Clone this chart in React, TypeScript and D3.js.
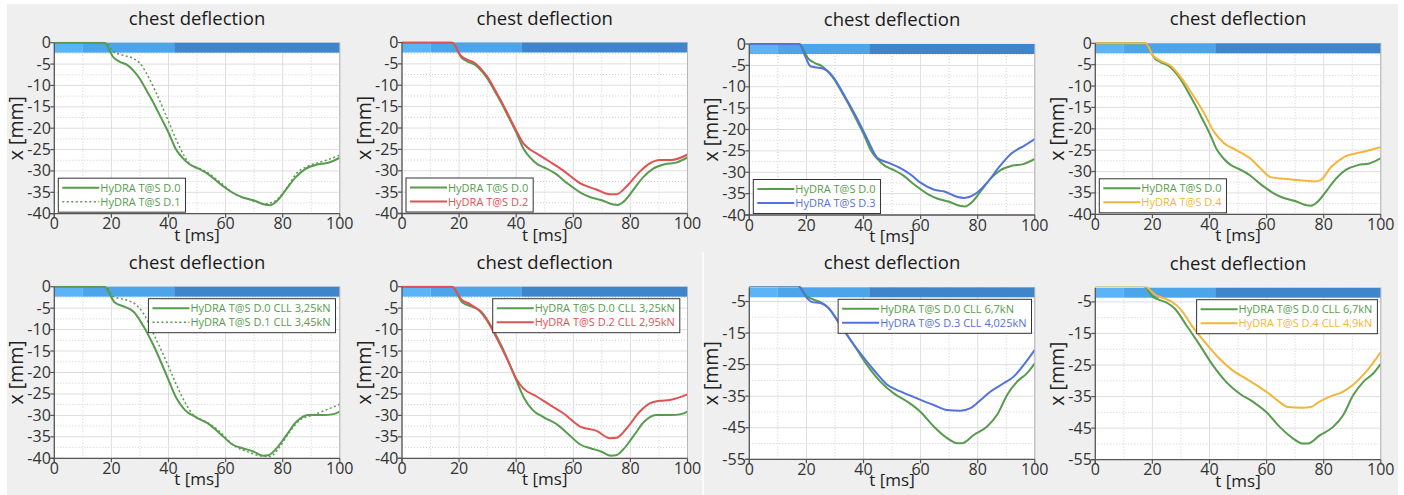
import React from 'react';
import * as d3 from 'd3';

const W = 1404;
const H = 495;
const FONT = "'Open Sans', 'Noto Sans', sans-serif";

const TITLE = 'chest deflection';
const X_LABEL = 't [ms]';
const Y_LABEL = 'x [mm]';

const GREEN = '#579b4e';
const RED = '#e05252';
const BLUE = '#5272dc';
const ORANGE = '#f3b63c';

const xTicks = [0, 20, 40, 60, 80, 100];
const xMinor = [10, 30, 50, 70, 90];
const yTicksTop = [0, -5, -10, -15, -20, -25, -30, -35, -40];
const yMinorTop = [-2.5, -7.5, -12.5, -17.5, -22.5, -27.5, -32.5, -37.5];
const yTicksBottom = [-5, -15, -25, -35, -45, -55];
const yMinorBottom = [-10, -20, -30, -40, -50];

const bandEdges = [0, 10, 42, 100];
const bandColors = ['#5bb3f8', '#4ca4ea', '#3f85cb'];

// top row, D.0 reference
const tD0top = [0, 10, 17.5, 20.8, 22.8, 25.5, 27.8, 30, 32.5, 35, 37.5, 40, 42.5, 45, 47.5, 50, 54, 58, 62.5, 66, 70, 74, 75.5, 78, 81, 84.5, 88, 92, 96, 100];
const vD0top = [0, 0, 0, -3.5, -4.4, -5.2, -6.6, -8.5, -11.4, -14.4, -17.7, -21, -24.8, -27, -28.5, -29.3, -30.8, -33, -35.1, -36.2, -36.9, -37.9, -38, -37, -34.5, -31.5, -29.5, -28.5, -28.1, -26.9];

const tD1top = [0, 10, 18, 20.7, 24, 27.7, 30, 32.3, 35.8, 39.3, 42.8, 45.7, 48, 52.2, 58, 62.7, 68.5, 73.2, 76.7, 81.3, 84.8, 89.5, 95.3, 100];
const vD1top = [0, 0, 0, -2.1, -2.9, -3.7, -4.8, -7.2, -11.9, -17.3, -22.8, -26.7, -28.7, -29.8, -32.6, -35.2, -36.7, -37.7, -37.3, -34.1, -30.6, -28.7, -27.5, -26.3];

const tD2top = [0, 10, 17.5, 20.8, 22.8, 25.5, 27.8, 30, 32.5, 35, 37.5, 40, 42.5, 45, 47.5, 51.8, 56.4, 62.3, 68.1, 72.8, 75.1, 78.6, 83.3, 86.8, 90.3, 94.4, 100];
const vD2top = [0, 0, 0, -3.2, -4.0, -4.8, -6.3, -8.1, -11.0, -14.0, -17.3, -20.6, -23.6, -25.1, -26.1, -27.9, -29.9, -32.9, -34.4, -35.5, -35.5, -33.7, -30.2, -28.3, -27.5, -27.5, -26.2];

const tD3top = [0, 10, 17.5, 19.6, 21.4, 23.7, 26, 29, 33.1, 37.8, 41.3, 44.8, 48.4, 53.1, 56.6, 60.1, 64.8, 68.3, 73, 75.4, 78.9, 83.6, 87.1, 91.8, 96.5, 100];
const vD3top = [0, 0, 0, -2.9, -5.2, -5.5, -5.8, -7.4, -11.8, -17.5, -22.2, -26.6, -27.7, -29.1, -30.6, -32.5, -34.1, -34.5, -35.8, -36, -35.2, -32.2, -29.1, -25.6, -23.7, -22.2];

const tD4top = [0, 10, 17.5, 20.5, 22.8, 26.3, 29.2, 33.3, 38, 41.5, 45, 49.7, 54.4, 57.9, 61.4, 66.1, 70.8, 76.6, 78.9, 82.5, 87.1, 93, 100];
const vD4top = [0, 0, 0, -3.1, -4.1, -5.2, -7.3, -11.2, -16.2, -20.6, -23.3, -25.1, -27, -29.3, -31.3, -31.7, -32, -32.3, -32, -29, -26.6, -25.5, -24.3];

// bottom left pair, CLL 3,25kN reference
const tD0bl = [0, 10, 17.5, 21.2, 24.7, 27.7, 30.6, 34.7, 39.3, 42.8, 45.7, 49.8, 54.5, 58, 62.7, 66.2, 69.7, 73.2, 74.9, 77.8, 81.3, 84.8, 88.9, 94.2, 97.7, 100];
const vD0bl = [0, 0, 0, -3.7, -4.7, -5.8, -8.5, -13.6, -20.6, -26, -28.7, -30.5, -32.2, -34.2, -36.9, -37.7, -38.4, -39.4, -39.3, -37.7, -34.6, -31.5, -29.9, -29.9, -29.7, -29.1];

const tD1bl = [0, 10, 18.1, 20.7, 25.3, 28.8, 31.2, 34.7, 39.3, 42.8, 46.3, 48.7, 53.3, 58, 62.7, 67.3, 72, 75.5, 79, 82.5, 86, 90.7, 95.3, 100];
const vD1bl = [0, 0, 0, -2.3, -3.1, -4.3, -6.2, -10.9, -17.5, -22.9, -27.6, -29.9, -31.5, -33.8, -36.9, -38.4, -39.4, -39.6, -37.3, -33.8, -31.1, -29.9, -28.7, -27.4];

const tD2bl = [0, 10, 17.5, 21, 23.9, 26.8, 29.7, 33.2, 36.7, 40.2, 42.5, 47.2, 51.9, 56.5, 62.4, 68.2, 72.8, 75.2, 78.7, 83.3, 86.8, 90.3, 93.8, 100];
const vD2bl = [0, 0, 0, -3.1, -4.1, -5.4, -7.8, -12, -16.7, -21.7, -23.7, -25.6, -27.6, -29.5, -32.6, -33.6, -35.3, -35.2, -33, -29.1, -27.2, -26.6, -26.4, -25.1];

// bottom right pair, CLL 6,7kN reference
const tD0br = [0, 10, 17, 20.2, 22, 25.5, 27.8, 31.9, 36.6, 41.2, 45.9, 50.6, 55.3, 59.9, 64.6, 69.3, 72.8, 74.5, 78.6, 83.3, 86.8, 90.3, 93.8, 97.3, 100];
const vD0br = [0, 0, 0, -3.4, -4.2, -5.5, -7.1, -12.4, -18.7, -25.1, -30.4, -34.1, -36.7, -39.9, -44.6, -48.3, -49.9, -49.9, -47.3, -44.6, -40.9, -34.6, -30.4, -27.7, -24.6];

const tD3br = [0, 10, 17, 20.2, 22, 24.9, 27.2, 30.7, 34.2, 38.9, 43.6, 48.3, 52.9, 58.8, 64.6, 69.3, 73.9, 77.5, 81, 84.5, 89.1, 92.6, 96.1, 100];
const vD3br = [0, 0, 0, -3.9, -5.2, -5.5, -6.6, -10.8, -15.6, -21.4, -26.7, -31.4, -33.5, -35.7, -37.8, -39.4, -39.6, -38.8, -36.2, -33.5, -30.9, -28.8, -25.1, -20.3];

const tD4br = [0, 10, 17, 21.3, 24.2, 27.2, 30.1, 34.1, 38.8, 43.5, 48.1, 52.8, 57.5, 60.9, 64.5, 67.4, 72.6, 75.5, 78.4, 81.9, 86.6, 90.1, 94.8, 100];
const vD4br = [0, 0, 0, -2.9, -3.9, -5.2, -7.6, -12.9, -18.2, -23, -26.7, -29.3, -32, -34.1, -36.7, -38.3, -38.5, -38.3, -36.7, -35.1, -33.5, -31.4, -27.2, -20.9];

type Series = { t: number[]; v: number[]; color: string; dash?: string; width: number; label: string };

const mk = (t: number[], v: number[], color: string, label: string, dash?: string): Series => ({
  t, v, color, label, dash, width: dash ? 1.5 : 2,
});

let _canvas: HTMLCanvasElement | null = null;
function measure(text: string, font: string): number {
  if (!_canvas) _canvas = document.createElement('canvas');
  const ctx = _canvas.getContext('2d');
  if (!ctx) return text.length * 5.8;
  ctx.font = font;
  return ctx.measureText(text).width;
}

type PanelProps = {
  id: string;
  left: number;
  top: number;
  width: number;
  height: number;
  yDomain: [number, number];
  yTicks: number[];
  yMinor: number[];
  series: Series[];
  legendPos: 'bl' | 'tr';
  legendInset: number;
};

function Panel(p: PanelProps) {
  const x = d3.scaleLinear().domain([0, 100]).range([p.left, p.left + p.width]);
  const y = d3.scaleLinear().domain(p.yDomain).range([p.top + p.height, p.top]);
  const line = d3
    .line<[number, number]>()
    .x((d) => x(d[0]))
    .y((d) => y(d[1]))
    .curve(d3.curveMonotoneX);
  const bottom = p.top + p.height;
  const right = p.left + p.width;
  const bandH = 10;
  const legFont = `11px ${FONT}`;
  const maxText = d3.max(p.series, (s) => measure(s.label, legFont)) || 80;
  const legW = 42 + maxText + 5;
  const legH = 34;
  const legX = p.legendPos === 'bl' ? p.left + 4 : right - p.legendInset - legW;
  const legY = p.legendPos === 'bl' ? bottom - 1.5 - legH : p.top + 12;
  const clipId = `clip-${p.id}`;
  const cx = (p.left + right) / 2;

  return (
    <g>
      <defs>
        <clipPath id={clipId}>
          <rect x={p.left} y={p.top - 1} width={p.width} height={p.height + 1} />
        </clipPath>
      </defs>
      <rect x={p.left} y={p.top} width={p.width} height={p.height} fill="#ffffff" />
      {xMinor.map((t) => (
        <line key={'xm' + t} x1={x(t)} x2={x(t)} y1={p.top} y2={bottom} stroke="#cfcfcf" strokeWidth={1} strokeDasharray="1,2" />
      ))}
      {p.yMinor.map((v) => (
        <line key={'ym' + v} x1={p.left} x2={right} y1={y(v)} y2={y(v)} stroke="#cfcfcf" strokeWidth={1} strokeDasharray="1,2" />
      ))}
      {xTicks.map((t) => (
        <line key={'xg' + t} x1={x(t)} x2={x(t)} y1={p.top} y2={bottom} stroke="#dedede" strokeWidth={1} />
      ))}
      {p.yTicks.map((v) => (
        <line key={'yg' + v} x1={p.left} x2={right} y1={y(v)} y2={y(v)} stroke="#dedede" strokeWidth={1} />
      ))}
      {bandColors.map((c, i) => (
        <rect key={'b' + i} x={x(bandEdges[i])} y={p.top} width={x(bandEdges[i + 1]) - x(bandEdges[i])} height={bandH} fill={c} />
      ))}
      <g clipPath={`url(#${clipId})`}>
        {p.series.map((s, i) => (
          <path
            key={'s' + i}
            d={line(s.t.map((t, k) => [t, s.v[k]] as [number, number])) || ''}
            fill="none"
            stroke={s.color}
            strokeWidth={s.width}
            strokeDasharray={s.dash}
            strokeLinejoin="round"
          />
        ))}
      </g>
      <line x1={right} x2={right} y1={p.top} y2={bottom} stroke="#b5b5b5" strokeWidth={1} />
      <line x1={p.left} x2={p.left} y1={p.top} y2={bottom + 4} stroke="#555" strokeWidth={1.3} />
      <line x1={p.left - 4} x2={right} y1={bottom} y2={bottom} stroke="#555" strokeWidth={1.3} />
      {p.yTicks.map((v) => (
        <g key={'yt' + v}>
          <line x1={p.left - 4} x2={p.left} y1={y(v)} y2={y(v)} stroke="#555" strokeWidth={1.2} />
          <text x={p.left - 3.5} y={y(v) + 5.5} textAnchor="end" fontSize={16} fill="#333" fontFamily={FONT}>
            {d3.format('d')(v).replace('−', '-')}
          </text>
        </g>
      ))}
      {xTicks.map((t) => (
        <g key={'xt' + t}>
          <line x1={x(t)} x2={x(t)} y1={bottom} y2={bottom + 4} stroke="#555" strokeWidth={1.2} />
          <text x={x(t)} y={bottom + 15.5} textAnchor="middle" fontSize={16} fill="#333" fontFamily={FONT}>
            {t}
          </text>
        </g>
      ))}
      <text x={cx} y={p.top - 18} textAnchor="middle" fontSize={18.5} fill="#1a1a1a" fontFamily={FONT}>
        {TITLE}
      </text>
      <text x={cx} y={bottom + 27} textAnchor="middle" fontSize={17} fill="#222" fontFamily={FONT}>
        {X_LABEL}
      </text>
      <text
        transform={`translate(${p.left - 31},${(p.top + bottom) / 2}) rotate(-90)`}
        textAnchor="middle"
        fontSize={19.5}
        fill="#222"
        fontFamily={FONT}
      >
        {Y_LABEL}
      </text>
      <rect x={legX} y={legY} width={legW} height={legH} fill="#ffffff" stroke="#333" strokeWidth={1} />
      {p.series.map((s, i) => {
        const ry = legY + 9.5 + i * 14;
        return (
          <g key={'lg' + i}>
            <line x1={legX + 4} x2={legX + 41} y1={ry} y2={ry} stroke={s.color} strokeWidth={s.width} strokeDasharray={s.dash} />
            <text x={legX + 42} y={ry + 4} fontSize={11} fill={s.color} fontFamily={FONT}>
              {s.label}
            </text>
          </g>
        );
      })}
    </g>
  );
}

export default function App() {
  const lefts = [54.3, 402, 749.3, 1095.3];
  const topsTop = [42.7, 42.5, 44, 43.3];
  const topsBot = [286.7, 286.7, 287.3, 287.7];
  const pw = 285.5;

  const topSeries: Series[][] = [
    [mk(tD0top, vD0top, GREEN, 'HyDRA T@S D.0'), mk(tD1top, vD1top, GREEN, 'HyDRA T@S D.1', '2,2.5')],
    [mk(tD0top, vD0top, GREEN, 'HyDRA T@S D.0'), mk(tD2top, vD2top, RED, 'HyDRA T@S D.2')],
    [mk(tD0top, vD0top, GREEN, 'HyDRA T@S D.0'), mk(tD3top, vD3top, BLUE, 'HyDRA T@S D.3')],
    [mk(tD0top, vD0top, GREEN, 'HyDRA T@S D.0'), mk(tD4top, vD4top, ORANGE, 'HyDRA T@S D.4')],
  ];
  const botSeries: Series[][] = [
    [mk(tD0bl, vD0bl, GREEN, 'HyDRA T@S D.0 CLL 3,25kN'), mk(tD1bl, vD1bl, GREEN, 'HyDRA T@S D.1 CLL 3,45kN', '2,2.5')],
    [mk(tD0bl, vD0bl, GREEN, 'HyDRA T@S D.0 CLL 3,25kN'), mk(tD2bl, vD2bl, RED, 'HyDRA T@S D.2 CLL 2,95kN')],
    [mk(tD0br, vD0br, GREEN, 'HyDRA T@S D.0 CLL 6,7kN'), mk(tD3br, vD3br, BLUE, 'HyDRA T@S D.3 CLL 4,025kN')],
    [mk(tD0br, vD0br, GREEN, 'HyDRA T@S D.0 CLL 6,7kN'), mk(tD4br, vD4br, ORANGE, 'HyDRA T@S D.4 CLL 4,9kN')],
  ];
  const insets = [4.3, 7.7, 3.3, 3.4];

  return (
    <svg width={W} height={H} style={{ position: 'absolute', left: 0, top: 0, display: 'block' }}>
      <rect x={0} y={0} width={W} height={H} fill="#ffffff" />
      <rect x={7} y={4} width={W - 13} height={H - 4} fill="#efefef" />
      <line x1={703} x2={703} y1={252} y2={H} stroke="#ffffff" strokeWidth={1.5} />
      {lefts.map((l, i) => (
        <Panel
          key={'t' + i}
          id={'t' + i}
          left={l}
          top={topsTop[i]}
          width={pw}
          height={171}
          yDomain={[-40, 0]}
          yTicks={yTicksTop}
          yMinor={yMinorTop}
          series={topSeries[i]}
          legendPos="bl"
          legendInset={4}
        />
      ))}
      {lefts.map((l, i) => (
        <Panel
          key={'b' + i}
          id={'b' + i}
          left={l}
          top={topsBot[i]}
          width={pw}
          height={i < 2 ? 171.6 : 172}
          yDomain={i < 2 ? [-40, 0] : [-55, -0.5]}
          yTicks={i < 2 ? yTicksTop : yTicksBottom}
          yMinor={i < 2 ? yMinorTop : yMinorBottom}
          series={botSeries[i]}
          legendPos="tr"
          legendInset={insets[i]}
        />
      ))}
    </svg>
  );
}
